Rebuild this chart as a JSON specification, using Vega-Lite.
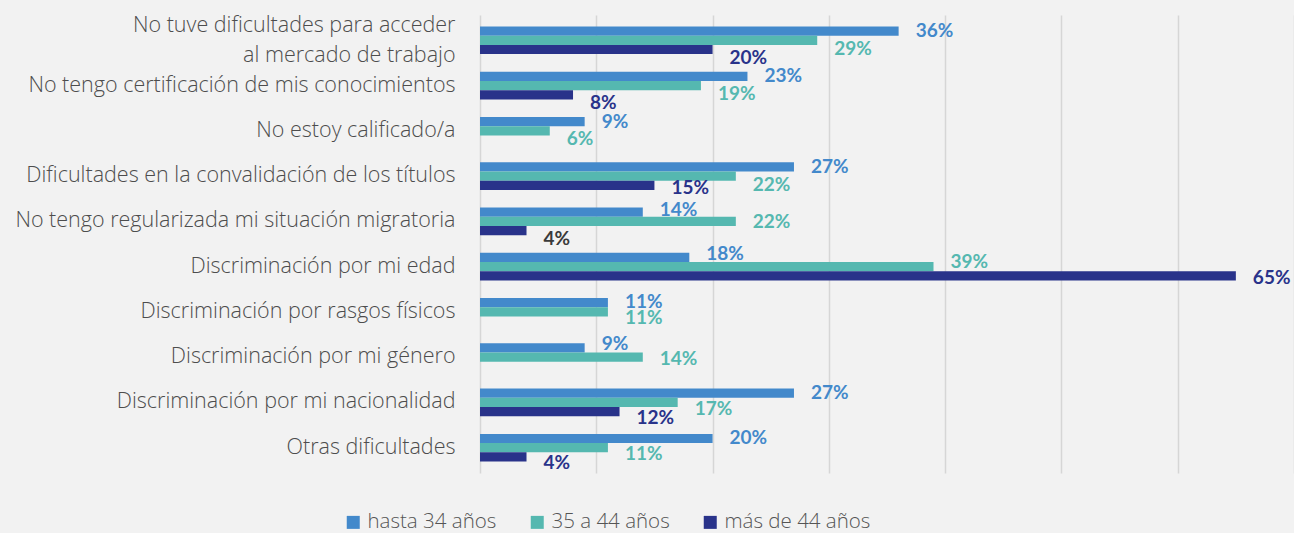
{
  "$schema": "https://vega.github.io/schema/vega-lite/v6.json",
  "width": 814,
  "height": 458,
  "autosize": {"type": "none"},
  "padding": {"left": 480, "top": 15, "right": 0, "bottom": 60},
  "background": "#f2f2f2",
  "config": {"view": {"stroke": null}, "font": "Lato"},
  "data": {
    "values": [
      {"categoria": "No tuve dificultades para acceder al mercado de trabajo", "grupo": "hasta 34 años", "valor": 36},
      {"categoria": "No tuve dificultades para acceder al mercado de trabajo", "grupo": "35 a 44 años", "valor": 29},
      {"categoria": "No tuve dificultades para acceder al mercado de trabajo", "grupo": "más de 44 años", "valor": 20},
      {"categoria": "No tengo certificación de mis conocimientos", "grupo": "hasta 34 años", "valor": 23},
      {"categoria": "No tengo certificación de mis conocimientos", "grupo": "35 a 44 años", "valor": 19},
      {"categoria": "No tengo certificación de mis conocimientos", "grupo": "más de 44 años", "valor": 8},
      {"categoria": "No estoy calificado/a", "grupo": "hasta 34 años", "valor": 9},
      {"categoria": "No estoy calificado/a", "grupo": "35 a 44 años", "valor": 6},
      {"categoria": "Dificultades en la convalidación de los títulos", "grupo": "hasta 34 años", "valor": 27},
      {"categoria": "Dificultades en la convalidación de los títulos", "grupo": "35 a 44 años", "valor": 22},
      {"categoria": "Dificultades en la convalidación de los títulos", "grupo": "más de 44 años", "valor": 15},
      {"categoria": "No tengo regularizada mi situación migratoria", "grupo": "hasta 34 años", "valor": 14},
      {"categoria": "No tengo regularizada mi situación migratoria", "grupo": "35 a 44 años", "valor": 22},
      {"categoria": "No tengo regularizada mi situación migratoria", "grupo": "más de 44 años", "valor": 4},
      {"categoria": "Discriminación por mi edad", "grupo": "hasta 34 años", "valor": 18},
      {"categoria": "Discriminación por mi edad", "grupo": "35 a 44 años", "valor": 39},
      {"categoria": "Discriminación por mi edad", "grupo": "más de 44 años", "valor": 65},
      {"categoria": "Discriminación por rasgos físicos", "grupo": "hasta 34 años", "valor": 11},
      {"categoria": "Discriminación por rasgos físicos", "grupo": "35 a 44 años", "valor": 11},
      {"categoria": "Discriminación por mi género", "grupo": "hasta 34 años", "valor": 9},
      {"categoria": "Discriminación por mi género", "grupo": "35 a 44 años", "valor": 14},
      {"categoria": "Discriminación por mi nacionalidad", "grupo": "hasta 34 años", "valor": 27},
      {"categoria": "Discriminación por mi nacionalidad", "grupo": "35 a 44 años", "valor": 17},
      {"categoria": "Discriminación por mi nacionalidad", "grupo": "más de 44 años", "valor": 12},
      {"categoria": "Otras dificultades", "grupo": "hasta 34 años", "valor": 20},
      {"categoria": "Otras dificultades", "grupo": "35 a 44 años", "valor": 11},
      {"categoria": "Otras dificultades", "grupo": "más de 44 años", "valor": 4}
    ]
  },
  "transform": [{"calculate": "datum.valor + '%'", "as": "etiqueta"}],
  "encoding": {
    "y": {
      "field": "categoria",
      "type": "nominal",
      "sort": null,
      "title": null,
      "scale": {"paddingInner": 0.39, "paddingOuter": 0.254},
      "axis": {
        "domain": false,
        "ticks": false,
        "labelFont": "Open Sans",
        "labelFontSize": 21.5,
        "labelFontWeight": 300,
        "labelColor": "#4d4d4d",
        "labelPadding": 25,
        "labelLimit": 480,
        "labelLineHeight": 30,
        "labelOffset": {"condition": {"test": "datum.value == 'No tuve dificultades para acceder al mercado de trabajo'", "value": -14}, "value": 0},
        "labelExpr": "datum.value == 'No tuve dificultades para acceder al mercado de trabajo' ? ['No tuve dificultades para acceder', 'al mercado de trabajo'] : datum.label"
      }
    },
    "yOffset": {
      "field": "grupo",
      "type": "nominal",
      "scale": {"domain": ["hasta 34 años", "35 a 44 años", "más de 44 años"], "paddingInner": 0, "paddingOuter": 0}
    },
    "x": {
      "field": "valor",
      "type": "quantitative",
      "scale": {"domain": [0, 70], "nice": false},
      "axis": {
        "title": null,
        "labels": false,
        "ticks": false,
        "domain": false,
        "values": [0, 10, 20, 30, 40, 50, 60, 70],
        "gridColor": "#d6d6d6",
        "gridWidth": 1.5
      }
    }
  },
  "layer": [
    {
      "mark": {"type": "bar"},
      "encoding": {
        "color": {
          "field": "grupo",
          "type": "nominal",
          "scale": {"domain": ["hasta 34 años", "35 a 44 años", "más de 44 años"], "range": ["#4389cb", "#55b8b0", "#29338a"]},
          "legend": {
            "title": null,
            "orient": "none",
            "legendX": -137,
            "legendY": 497,
            "direction": "horizontal",
            "symbolType": "square",
            "symbolSize": 169,
            "symbolStrokeWidth": 0,
            "labelFont": "Open Sans",
            "labelFontSize": 20.5,
            "labelFontWeight": 300,
            "labelColor": "#555555",
            "labelOffset": 4,
            "columnPadding": 30
          }
        }
      }
    },
    {
      "transform": [{"filter": "datum.grupo == 'hasta 34 años'"}],
      "mark": {"type": "text", "align": "left", "baseline": "middle", "dx": 17, "dy": {"expr": "datum.categoria == 'Discriminación por mi edad' ? -3 : datum.categoria == 'Discriminación por mi género' ? -3.5 : datum.categoria == 'No tengo regularizada mi situación migratoria' ? -2 : datum.categoria == 'Discriminación por rasgos físicos' ? -1 : 0"}, "fontSize": 19, "fontWeight": "bold", "color": "#4389cb"},
      "encoding": {"text": {"field": "etiqueta", "type": "nominal"}}
    },
    {
      "transform": [{"filter": "datum.grupo == '35 a 44 años'"}],
      "mark": {"type": "text", "align": "left", "baseline": "middle", "dx": 17, "dy": {"expr": "datum.categoria == 'Discriminación por mi edad' ? -5 : datum.categoria == 'No tengo regularizada mi situación migratoria' ? 1 : datum.categoria == 'Discriminación por mi género' ? 1.5 : datum.categoria == 'Discriminación por mi nacionalidad' || datum.categoria == 'Otras dificultades' || datum.categoria == 'Discriminación por rasgos físicos' ? 6.5 : 8.5"}, "fontSize": 19, "fontWeight": "bold", "color": "#55b8b0"},
      "encoding": {"text": {"field": "etiqueta", "type": "nominal"}}
    },
    {
      "transform": [{"filter": "datum.grupo == 'más de 44 años'"}],
      "mark": {"type": "text", "align": "left", "baseline": "middle", "dx": 17, "dy": {"expr": "datum.categoria == 'Discriminación por mi edad' ? 2 : datum.categoria == 'Dificultades en la convalidación de los títulos' ? 3 : datum.categoria == 'Discriminación por mi nacionalidad' || datum.categoria == 'Otras dificultades' ? 6.5 : 8"}, "fontSize": 19, "fontWeight": "bold"},
      "encoding": {
        "text": {"field": "etiqueta", "type": "nominal"},
        "color": {
          "condition": {"test": "datum.categoria == 'No tengo regularizada mi situación migratoria'", "value": "#3a3a3a"},
          "value": "#29338a"
        }
      }
    }
  ]
}
